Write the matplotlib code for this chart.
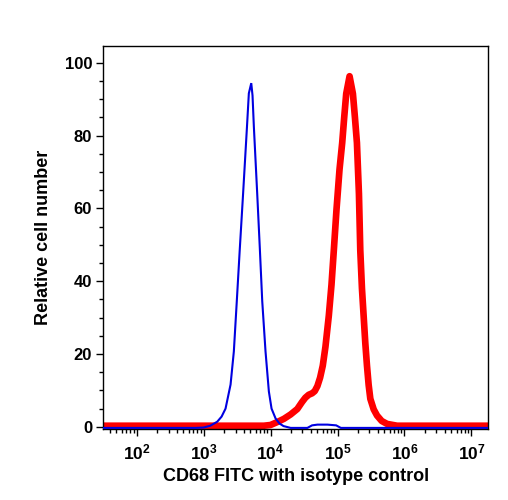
import numpy as np
import matplotlib
matplotlib.use('Agg')
import matplotlib.pyplot as plt
from matplotlib.ticker import MultipleLocator, LogLocator, FixedLocator, FuncFormatter

# isotype control (blue) : log10 intensity / relative count
blue_log = [1.4, 2.88, 3.0, 3.10, 3.204, 3.269, 3.328, 3.403, 3.452, 3.496, 3.539, 3.590,
            3.648, 3.676, 3.712, 3.731, 3.751, 3.801, 3.840, 3.876, 3.925, 3.975, 4.015,
            4.075, 4.134, 4.194, 4.3, 4.55, 4.62, 4.7, 4.85, 4.98, 5.05, 7.3]
blue_cnt = [-0.3, -0.3, -0.2, 0.3, 1.4, 2.8, 5.0, 11.6, 20.7, 34.5, 48.3, 64,
            82.4, 91.6, 94.4, 91, 82.4, 64, 49, 34.5, 20.7, 9.7, 5.0,
            2.3, 0.9, 0.2, -0.3, -0.3, 0.4, 0.6, 0.6, 0.4, -0.3, -0.3]

# CD68 FITC (red)
red_log = [1.4, 3.9, 4.0, 4.1, 4.2, 4.3, 4.4, 4.47, 4.52, 4.57, 4.62, 4.66, 4.70, 4.74,
           4.78, 4.82, 4.87, 4.91, 4.945, 4.985, 5.03, 5.07, 5.10, 5.13, 5.18,
           5.23, 5.26, 5.29, 5.32, 5.34, 5.365, 5.39, 5.415, 5.44, 5.465, 5.49,
           5.54, 5.59, 5.66, 5.74, 5.89, 7.3]
red_cnt = [0.3, 0.3, 0.5, 1.3, 2.2, 3.4, 4.9, 6.8, 8.0, 8.8, 9.2, 9.8, 11.2, 13.5,
           16.8, 22, 30.5, 39, 48.5, 59.7, 70.7, 78, 85, 91.5, 96.3,
           91.5, 85, 78, 64, 48.5, 38, 30.5, 23, 16.8, 11.5, 7.7,
           4.8, 3.1, 1.6, 0.8, 0.3, 0.3]

xlabel = 'CD68 FITC with isotype control'
ylabel = 'Relative cell number'

plt.rcParams['font.family'] = ['Liberation Sans', 'DejaVu Sans']
plt.rcParams['font.weight'] = 'bold'
plt.rcParams['mathtext.fontset'] = 'custom'
plt.rcParams['mathtext.rm'] = 'Liberation Sans:bold'
plt.rcParams['mathtext.bf'] = 'Liberation Sans:bold'
plt.rcParams['mathtext.it'] = 'Liberation Sans:bold:italic'

fig = plt.figure(figsize=(5.08, 5.0), dpi=100)
ax = fig.add_axes([0.203, 0.142, 0.758, 0.766])

ax.plot(10 ** np.array(red_log), red_cnt, color='#ff0000', lw=4.8, zorder=2)
ax.plot(10 ** np.array(blue_log), blue_cnt, color='#0000e0', lw=1.5,
        solid_joinstyle='miter', zorder=3)

ax.set_xscale('log')
ax.set_xlim(10 ** 1.5, 10 ** 7.25)
ax.set_ylim(-0.6, 104.6)

ax.xaxis.set_major_locator(FixedLocator([1e2, 1e3, 1e4, 1e5, 1e6, 1e7]))
ax.xaxis.set_minor_locator(LogLocator(base=10, subs=np.arange(2, 10), numticks=20))
ax.xaxis.set_major_formatter(FuncFormatter(lambda v, p: r'$\mathbf{10^{%d}}$' % round(np.log10(v))))
ax.yaxis.set_major_locator(MultipleLocator(20))
ax.yaxis.set_minor_locator(MultipleLocator(5))

ax.tick_params(which='major', direction='out', length=5, width=1, labelsize=12, pad=3)
ax.tick_params(which='minor', direction='out', length=3, width=1)
ax.tick_params(axis='x', which='major', labelsize=12.5, pad=5)
for lab in ax.get_yticklabels():
    lab.set_fontweight('bold')

for s in ax.spines.values():
    s.set_linewidth(1)

ax.set_xlabel(xlabel, fontsize=13, fontweight='bold', labelpad=4)
ax.set_ylabel(ylabel, fontsize=13, fontweight='bold', labelpad=9)

plt.savefig('out.png', dpi=100)
